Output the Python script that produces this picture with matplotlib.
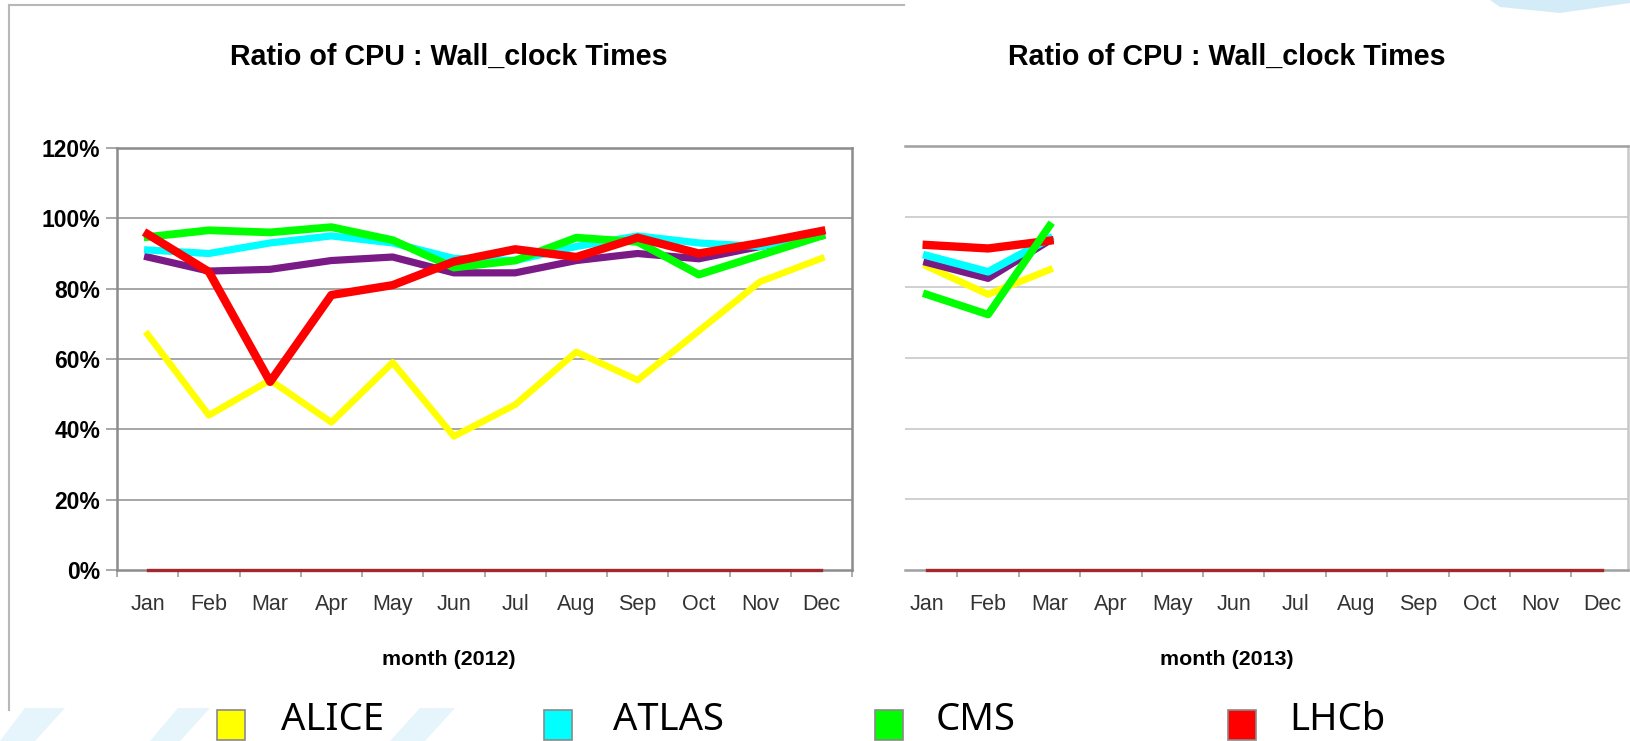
import matplotlib
matplotlib.use("Agg")
import matplotlib.pyplot as plt
from matplotlib.patches import Rectangle, Polygon
from matplotlib.ticker import FixedLocator

W, H = 1630, 741
months = ["Jan", "Feb", "Mar", "Apr", "May", "Jun", "Jul", "Aug", "Sep", "Oct", "Nov", "Dec"]
yticks = [0, 20, 40, 60, 80, 100, 120]
ytick_labels = ["0%", "20%", "40%", "60%", "80%", "100%", "120%"]
title = "Ratio of CPU : Wall_clock Times"

# 2012 (percent)
alice_2012 = [67, 44, 54, 42, 59, 38, 47, 62, 54, 68, 82, 88.6]
atlas_2012 = [91, 90, 93, 95, 93, 88.6, 88, 92, 95, 93, 92, 95.5]
cms_2012 = [94.7, 96.6, 96, 97.5, 93.8, 86, 88, 94.5, 93.3, 84, 89.5, 95]
lhcb_2012 = [95.5, 84.8, 53.5, 78.2, 81, 87.7, 91.2, 89, 94.5, 90, 93, 96.4]
other_2012 = [89, 85, 85.5, 88, 89, 84.5, 84.5, 88, 90, 88.5, 92, 95]
zero_2012 = [0] * 12

# 2013 (percent), only Jan-Mar reported
alice_2013 = [86, 78, 85]
atlas_2013 = [89, 84.4, 93.8]
cms_2013 = [78, 72.3, 97.4]
lhcb_2013 = [92, 91, 93.2]
other_2013 = [87, 82.5, 93.2]
zero_2013 = [0] * 12

series_names = ["ALICE", "ATLAS", "CMS", "LHCb"]
series_colors = ["#ffff00", "#00ffff", "#00ff00", "#ff0000"]
other_color = "#7a1a86"
zero_color = "#a3282c"

plt.rcParams["font.family"] = ["Liberation Sans", "DejaVu Sans"]

fig = plt.figure(figsize=(W / 100, H / 100), dpi=100)
fig.patch.set_facecolor("white")


def px_rect(x0, y0, x1, y1):
    return [x0 / W, (H - y1) / H, (x1 - x0) / W, (y1 - y0) / H]


# watermark shapes (light blue)
wm = "#e6f4fb"
for pts, c in [
    ([(0, 741), (35, 741), (65, 708), (25, 708)], wm),
    ([(150, 741), (180, 741), (210, 708), (178, 708)], wm),
    ([(390, 741), (425, 741), (455, 708), (420, 708)], wm),
    ([(1490, 0), (1630, 0), (1630, 3), (1560, 13), (1500, 7)], "#d4ecf8"),
]:
    fig.patches.append(Polygon([(x / W, 1 - y / H) for x, y in pts], closed=True,
                               transform=fig.transFigure, facecolor=c, edgecolor="none", zorder=0))

# outer frame of left image
fig.add_artist(plt.Line2D([9 / W, 9 / W], [1 - 5 / H, 1 - 710 / H], color="#b8b8b8", lw=1.5))
fig.add_artist(plt.Line2D([9 / W, 904 / W], [1 - 5 / H, 1 - 5 / H], color="#b8b8b8", lw=1.5))


def style_axes(ax, xl, xr, grid_color, show_left):
    ax.set_xlim(xl, xr)
    ax.set_ylim(0, 120)
    ax.yaxis.set_major_locator(FixedLocator(yticks))
    ax.xaxis.set_major_locator(FixedLocator(range(12)))
    ax.xaxis.set_minor_locator(FixedLocator([i + 0.5 for i in range(-1, 12)]))
    ax.set_xticklabels(months, fontsize=15.5, color="#333333")
    ax.tick_params(axis="x", which="major", length=0, pad=17.5)
    ax.tick_params(axis="x", which="minor", length=5, color="#a0a0a0", width=1.2)
    for yv in yticks[1:-1]:
        ax.axhline(yv, color=grid_color, lw=1.4, zorder=0.5)
    for s in ax.spines.values():
        s.set_color("#8c8c8c")
        s.set_linewidth(1.8)
    if show_left:
        ax.set_yticklabels(ytick_labels, fontsize=16.5, fontweight="bold")
        ax.tick_params(axis="y", length=8, color="#999999", width=1.2, pad=4)
    else:
        ax.spines["left"].set_visible(False)
        ax.tick_params(axis="y", length=0, labelleft=False)


# left chart (2012)
ax1 = fig.add_axes(px_rect(117, 148, 852, 570))
style_axes(ax1, -0.5, 11.5, "#a6a6a6", True)
x12 = list(range(12))
ax1.plot(x12, zero_2012, color=zero_color, lw=2.4, zorder=4, clip_on=False)
ax1.plot(x12, alice_2012, color=series_colors[0], lw=4.8, zorder=3)
ax1.plot(x12, other_2012, color=other_color, lw=5.2, zorder=3)
ax1.plot(x12, atlas_2012, color=series_colors[1], lw=5.2, zorder=3)
ax1.plot(x12, cms_2012, color=series_colors[2], lw=5.6, zorder=3)
ax1.plot(x12, lhcb_2012, color=series_colors[3], lw=6, zorder=3)
ax1.set_xlabel("month (2012)", fontsize=15.4, fontweight="bold")
ax1.xaxis.set_label_coords((449 - 117) / 735, -(650 - 570) / 422)

# right chart (2013)
x0 = 926.7
step = 61.4
ax2 = fig.add_axes(px_rect(905, 146, 1628, 570))
style_axes(ax2, (905 - x0) / step, (1628 - x0) / step, "#d0d0d0", False)
ax2.spines["top"].set_color("#a0a0a0")
ax2.spines["right"].set_color("#c8c8c8")
ax2.spines["bottom"].set_color("#a0a0a0")
x13 = list(range(3))
ax2.plot(list(range(12)), zero_2013, color=zero_color, lw=2.4, zorder=4, clip_on=False)
ax2.plot(x13, alice_2013, color=series_colors[0], lw=5, zorder=3)
ax2.plot(x13, other_2013, color=other_color, lw=5, zorder=3)
ax2.plot(x13, atlas_2013, color=series_colors[1], lw=5.5, zorder=3)
ax2.plot(x13, lhcb_2013, color=series_colors[3], lw=6, zorder=3)
ax2.plot(x13, cms_2013, color=series_colors[2], lw=5.5, zorder=4)
ax2.set_xlabel("month (2013)", fontsize=15.4, fontweight="bold")
ax2.xaxis.set_label_coords((1227 - 905) / (1628 - 905), -(650 - 570) / 424)

# titles
for cx in (449, 1227):
    fig.text(cx / W, 1 - 57 / H, title, fontsize=20.6, fontweight="bold",
             ha="center", va="center")

# legend row
sq_x = [231, 558, 889, 1242]
tx_x = [281, 613, 936, 1289]
for name, col, sx, tx in zip(series_names, series_colors, sq_x, tx_x):
    fig.patches.append(Rectangle(((sx - 14) / W, 1 - 740 / H), 28 / W, 30 / H,
                                 transform=fig.transFigure, facecolor=col,
                                 edgecolor="#8a8a8a", lw=1.2, zorder=3))
    fig.text(tx / W, 1 - 730 / H, name, fontsize=27.5, family=["Noto Sans", "DejaVu Sans"],
             va="baseline", ha="left", color="black")

fig.savefig("out.png", dpi=100, facecolor="white")
